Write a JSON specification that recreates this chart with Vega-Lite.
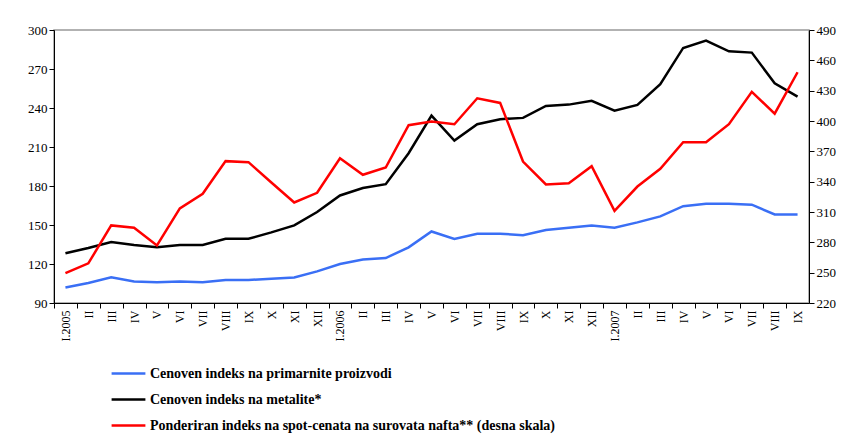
{
  "$schema": "https://vega.github.io/schema/vega-lite/v6.json",
  "width": 755,
  "height": 273,
  "autosize": {"type": "none"},
  "padding": {"left": 54, "top": 30, "right": 33, "bottom": 145},
  "background": "white",
  "config": {
    "view": {"stroke": "#999999", "strokeWidth": 1.5},
    "font": "Liberation Serif",
    "axis": {"labelFont": "Liberation Serif", "labelFontSize": 13, "labelColor": "#000000", "domainColor": "#000000", "tickColor": "#000000", "grid": false, "tickSize": 5, "labelPadding": 2}
  },
  "data": {"values": [
    {"month":"I.2005","series":"P","value":102},{"month":"II.2005","series":"P","value":105.4},{"month":"III.2005","series":"P","value":109.7},{"month":"IV.2005","series":"P","value":106.6},{"month":"V.2005","series":"P","value":105.9},{"month":"VI.2005","series":"P","value":106.6},{"month":"VII.2005","series":"P","value":105.9},{"month":"VIII.2005","series":"P","value":107.7},{"month":"IX.2005","series":"P","value":107.7},{"month":"X.2005","series":"P","value":108.7},{"month":"XI.2005","series":"P","value":109.7},{"month":"XII.2005","series":"P","value":114.3},
    {"month":"I.2006","series":"P","value":120},{"month":"II.2006","series":"P","value":123.5},{"month":"III.2006","series":"P","value":124.6},{"month":"IV.2006","series":"P","value":132.8},{"month":"V.2006","series":"P","value":145},{"month":"VI.2006","series":"P","value":139.2},{"month":"VII.2006","series":"P","value":143.3},{"month":"VIII.2006","series":"P","value":143.3},{"month":"IX.2006","series":"P","value":142.2},{"month":"X.2006","series":"P","value":146.1},{"month":"XI.2006","series":"P","value":147.9},{"month":"XII.2006","series":"P","value":149.7},
    {"month":"I.2007","series":"P","value":147.9},{"month":"II.2007","series":"P","value":152},{"month":"III.2007","series":"P","value":156.6},{"month":"IV.2007","series":"P","value":164.5},{"month":"V.2007","series":"P","value":166.3},{"month":"VI.2007","series":"P","value":166.3},{"month":"VII.2007","series":"P","value":165.6},{"month":"VIII.2007","series":"P","value":158.1},{"month":"IX.2007","series":"P","value":158.1},
    {"month":"I.2005","series":"M","value":128.2},{"month":"II.2005","series":"M","value":132.3},{"month":"III.2005","series":"M","value":136.9},{"month":"IV.2005","series":"M","value":134.6},{"month":"V.2005","series":"M","value":132.8},{"month":"VI.2005","series":"M","value":134.6},{"month":"VII.2005","series":"M","value":134.6},{"month":"VIII.2005","series":"M","value":139.4},{"month":"IX.2005","series":"M","value":139.4},{"month":"X.2005","series":"M","value":144.3},{"month":"XI.2005","series":"M","value":149.7},{"month":"XII.2005","series":"M","value":160},
    {"month":"I.2006","series":"M","value":172.7},{"month":"II.2006","series":"M","value":178.4},{"month":"III.2006","series":"M","value":181.4},{"month":"IV.2006","series":"M","value":205.2},{"month":"V.2006","series":"M","value":234.2},{"month":"VI.2006","series":"M","value":215},{"month":"VII.2006","series":"M","value":227.5},{"month":"VIII.2006","series":"M","value":231.4},{"month":"IX.2006","series":"M","value":232.4},{"month":"X.2006","series":"M","value":241.6},{"month":"XI.2006","series":"M","value":242.6},{"month":"XII.2006","series":"M","value":245.5},
    {"month":"I.2007","series":"M","value":238},{"month":"II.2007","series":"M","value":242.4},{"month":"III.2007","series":"M","value":258.3},{"month":"IV.2007","series":"M","value":286.2},{"month":"V.2007","series":"M","value":291.8},{"month":"VI.2007","series":"M","value":283.6},{"month":"VII.2007","series":"M","value":282.6},{"month":"VIII.2007","series":"M","value":259},{"month":"IX.2007","series":"M","value":248.8},
    {"month":"I.2005","series":"O","value":249.6},{"month":"II.2005","series":"O","value":259.2},{"month":"III.2005","series":"O","value":296.7},{"month":"IV.2005","series":"O","value":294.4},{"month":"V.2005","series":"O","value":277},{"month":"VI.2005","series":"O","value":313.5},{"month":"VII.2005","series":"O","value":328},{"month":"VIII.2005","series":"O","value":360.3},{"month":"IX.2005","series":"O","value":359.3},{"month":"X.2005","series":"O","value":339.2},{"month":"XI.2005","series":"O","value":319.4},{"month":"XII.2005","series":"O","value":329},
    {"month":"I.2006","series":"O","value":363.2},{"month":"II.2006","series":"O","value":346.8},{"month":"III.2006","series":"O","value":354},{"month":"IV.2006","series":"O","value":395.8},{"month":"V.2006","series":"O","value":399.4},{"month":"VI.2006","series":"O","value":396.8},{"month":"VII.2006","series":"O","value":422.5},{"month":"VIII.2006","series":"O","value":417.9},{"month":"IX.2006","series":"O","value":359.9},{"month":"X.2006","series":"O","value":337.2},{"month":"XI.2006","series":"O","value":338.5},{"month":"XII.2006","series":"O","value":355.3},
    {"month":"I.2007","series":"O","value":311.2},{"month":"II.2007","series":"O","value":335.2},{"month":"III.2007","series":"O","value":352.7},{"month":"IV.2007","series":"O","value":379},{"month":"V.2007","series":"O","value":379},{"month":"VI.2007","series":"O","value":396.8},{"month":"VII.2007","series":"O","value":428.8},{"month":"VIII.2007","series":"O","value":407.3},{"month":"IX.2007","series":"O","value":448.2}
  ]},
  "layer": [
    {
      "transform": [{"filter": "datum.series != 'O'"}],
      "mark": {"type": "line", "strokeWidth": 2.5},
      "encoding": {
        "x": {
          "field": "month", "type": "ordinal", "sort": null, "title": null,
          "axis": {"labelAngle": -90, "labelAlign": "right", "labelBaseline": "middle", "labelFontSize": 12,
            "tickOffset": -11.44, "labelOffset": 11.44,
            "labelExpr": "indexof(datum.value, 'I.') == 0 ? datum.value : split(datum.value, '.')[0]"}
        },
        "y": {"field": "value", "type": "quantitative", "title": null,
          "scale": {"domain": [90, 300], "nice": false, "zero": false},
          "axis": {"orient": "left", "values": [90, 120, 150, 180, 210, 240, 270, 300]}},
        "color": {
          "field": "series", "type": "nominal",
          "scale": {"domain": ["P", "M", "O"], "range": ["#3a6ff5", "#000000", "#ff0000"]},
          "legend": {
            "title": null, "orient": "none", "legendX": 60, "legendY": 329, "direction": "vertical",
            "symbolType": "M-1.3,0H1.3", "symbolSize": 676, "symbolStrokeWidth": 2.5,
            "labelFont": "Liberation Serif", "labelFontSize": 14, "labelFontWeight": "bold", "labelColor": "#000000",
            "rowPadding": 4, "labelOffset": 7, "labelLimit": 700,
            "labelExpr": "datum.value == 'P' ? 'Cenoven indeks na primarnite proizvodi' : datum.value == 'M' ? 'Cenoven indeks na metalite*' : 'Ponderiran indeks na spot-cenata na surovata nafta** (desna skala)'"
          }
        }
      }
    },
    {
      "transform": [{"filter": "datum.series == 'O'"}],
      "mark": {"type": "line", "strokeWidth": 2.5},
      "encoding": {
        "x": {"field": "month", "type": "ordinal", "sort": null, "title": null},
        "y": {"field": "value", "type": "quantitative", "title": null,
          "scale": {"domain": [220, 490], "nice": false, "zero": false},
          "axis": {"orient": "right", "values": [220, 250, 280, 310, 340, 370, 400, 430, 460, 490]}},
        "color": {"field": "series", "type": "nominal"}
      }
    }
  ],
  "resolve": {"scale": {"y": "independent"}}
}
